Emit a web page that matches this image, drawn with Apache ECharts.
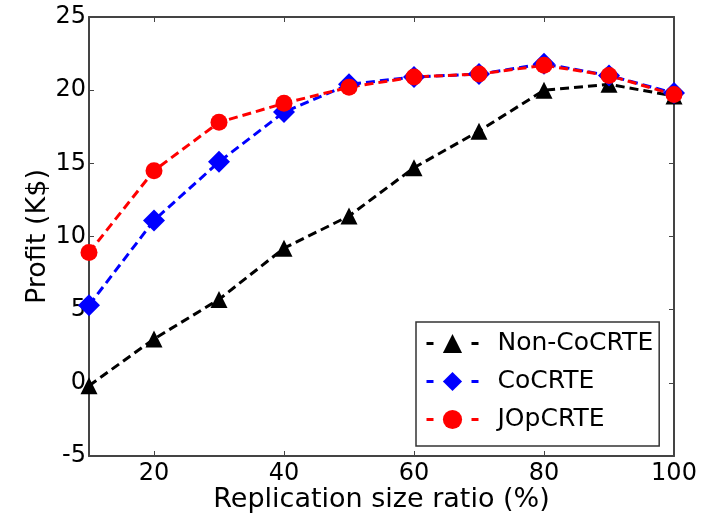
<!DOCTYPE html>
<html>
<head>
<meta charset="utf-8">
<script src="https://cdn.jsdelivr.net/npm/echarts@6/dist/echarts.min.js"></script>
<style>
  html, body { margin: 0; padding: 0; background: #fff; }
  #chart { width: 709px; height: 514px; }
</style>
</head>
<body>
<div id="chart"></div>
<script>
// data
var ratios = [10, 20, 30, 40, 50, 60, 70, 80, 90, 100];
var nonCoCRTE = [-0.2, 3.0, 5.7, 9.2, 11.4, 14.7, 17.2, 20.0, 20.4, 19.6];
var coCRTE = [5.3, 11.1, 15.1, 18.5, 20.4, 20.9, 21.1, 21.8, 21.0, 19.8];
var jOpCRTE = [8.9, 14.5, 17.8, 19.1, 20.2, 20.9, 21.1, 21.7, 21.0, 19.7];
var xTicks = [20, 40, 60, 80, 100];

var font = 'DejaVu Sans';
var axisColor = '#444';

function pairs(vals) {
  return ratios.map(function (r, i) { return [r, vals[i]]; });
}

var chart = echarts.init(document.getElementById('chart'));

// x axis: labels at 20..100 only, ticks inside
function xAxis(pos, showLabel) {
  return {
    type: 'value', position: pos, min: 10, max: 100,
    axisLine: { show: true, onZero: false, lineStyle: { color: axisColor, width: 2 } },
    axisTick: { show: true, inside: true, length: 5, customValues: xTicks, lineStyle: { color: axisColor, width: 1 } },
    axisLabel: { show: showLabel, customValues: xTicks, color: '#000', fontFamily: font, fontSize: 24, margin: 6 },
    splitLine: { show: false }
  };
}
function yAxis(pos, showLabel) {
  return {
    type: 'value', position: pos, min: -5, max: 25, interval: 5,
    axisLine: { show: true, onZero: false, lineStyle: { color: axisColor, width: 2 } },
    axisTick: { show: true, inside: true, length: 5, lineStyle: { color: axisColor, width: 1 } },
    axisLabel: { show: showLabel, color: '#000', fontFamily: font, fontSize: 24, margin: 3 },
    splitLine: { show: false }
  };
}

var xa = xAxis('bottom', true);
xa.name = 'Replication size ratio (%)';
xa.nameLocation = 'middle';
xa.nameGap = 30;
xa.nameMoveOverlap = false;
xa.nameTextStyle = { color: '#000', fontFamily: font, fontSize: 27 };
var ya = yAxis('left', true);
ya.name = 'Profit (K$)';
ya.nameLocation = 'middle';
ya.nameGap = 38;
ya.nameMoveOverlap = false;
ya.nameTextStyle = { color: '#000', fontFamily: font, fontSize: 27 };

function line(name, vals, color, symbol, size) {
  return {
    name: name, type: 'line', data: pairs(vals),
    symbol: symbol, symbolSize: size,
    lineStyle: { color: color, width: 3, type: [9, 5] },
    itemStyle: { color: color },
    z: 2
  };
}

chart.setOption({
  animation: false,
  backgroundColor: '#fff',
  grid: { left: 89, right: 35, top: 17, bottom: 58, outerBoundsMode: 'none' },
  xAxis: [xa, xAxis('top', false)],
  yAxis: [ya, yAxis('right', false)],
  legend: {
    orient: 'vertical', left: 416, top: 322,
    itemWidth: 52, itemHeight: 24, itemGap: 13,
    padding: [9, 6, 14, 9],
    borderColor: '#333', borderWidth: 1.5, backgroundColor: '#fff',
    lineStyle: { width: 3, type: [7, 38] },
    textStyle: { color: '#000', fontFamily: font, fontSize: 25, padding: [0, 0, 0, 14] },
    data: ['Non-CoCRTE', 'CoCRTE', 'JOpCRTE']
  },
  series: [
    line('Non-CoCRTE', nonCoCRTE, '#000000', 'triangle', 17),
    line('CoCRTE', coCRTE, '#0000ff', 'diamond', 22),
    line('JOpCRTE', jOpCRTE, '#ff0000', 'circle', 17)
  ]
});
</script>
</body>
</html>
